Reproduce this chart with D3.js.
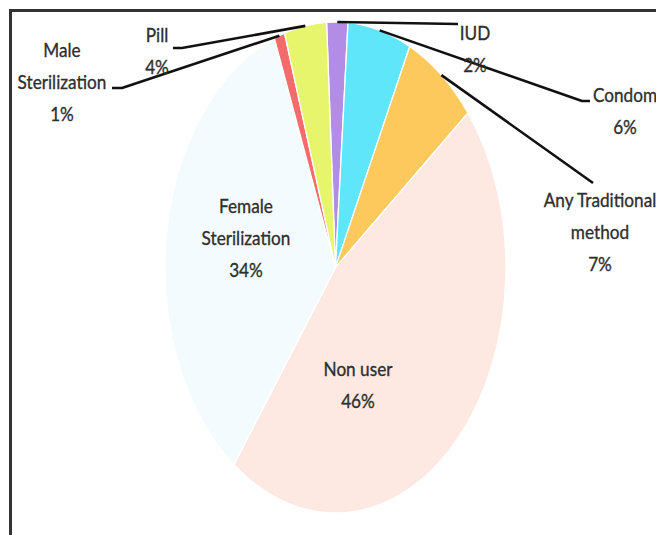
<!DOCTYPE html>
<html>
<head>
<meta charset="utf-8">
<script src="https://cdn.jsdelivr.net/npm/d3@7"></script>
<style>
  html, body { margin: 0; padding: 0; background: #fff; overflow: hidden; }
  svg { display: block; }
</style>
</head>
<body>
<svg id="chart" width="656" height="535"></svg>
<script>
// Contraceptive method mix (share of women, %)
const methods = ["IUD", "Condom", "Any Traditional method", "Non user",
                 "Female Sterilization", "Male Sterilization", "Pill"];
const shares = [2, 6, 7, 46, 34, 1, 4];
const sliceColors = ["#b38ce6", "#5fe6fa", "#fdc85c", "#fde9e2",
                     "#f3fbfe", "#f46b6b", "#e7f56c"];
// label text, split into lines (the percentage goes on the last line)
const labelLines = [["IUD"], ["Condom"], ["Any Traditional", "method"], ["Non user"],
                    ["Female", "Sterilization"], ["Male", "Sterilization"], ["Pill"]];

// ---- layout ----
const W = 656, H = 535;
const cx = 335.5, cy = 267.5, rx = 170.5, ry = 245.5;
const deg = Math.PI / 180;
const start = -3 * deg;

// label centre x, first baseline y, and leader elbow points on the label side
const labelLayout = [
  { x: 475, y: 40,  leader: [[458, 24]] },
  { x: 625, y: 102, leader: [[590, 101], [582, 101]] },
  { x: 600, y: 207, leader: [[593, 183]] },
  { x: 358, y: 376, leader: null },
  { x: 246, y: 213, leader: null },
  { x: 62,  y: 57,  leader: [[112, 88], [122, 88]] },
  { x: 157, y: 42,  leader: [[173, 48], [182, 48]] }
];
const lineGap = 32;
const textSquash = 0.86;

const svg = d3.select("#chart");

// frame
svg.append("path")
  .attr("d", `M10.5,${H} V10.5 H${W}`)
  .attr("fill", "none")
  .attr("stroke", "#333")
  .attr("stroke-width", 3);

const pie = d3.pie().sort(null).value(d => d)
  .startAngle(start).endAngle(start + 2 * Math.PI);
const arcs = pie(shares);

const arc = d3.arc().innerRadius(0).outerRadius(rx);

// slices, drawn on a circle and stretched into an ellipse
const pieG = svg.append("g")
  .attr("transform", `translate(${cx},${cy}) scale(1,${ry / rx})`);

pieG.selectAll("path.slice")
  .data(arcs)
  .join("path")
  .attr("class", "slice")
  .attr("d", arc)
  .attr("fill", (d, i) => sliceColors[i])
  .attr("stroke", "#fff")
  .attr("stroke-width", 1.3)
  .attr("vector-effect", "non-scaling-stroke");

// point on the ellipse rim at a given pie angle and radius fraction
const rimPoint = (a, f = 1) => [cx + f * rx * Math.sin(a), cy - f * ry * Math.cos(a)];

// leader lines
const line = d3.line();
arcs.forEach((d, i) => {
  const lay = labelLayout[i];
  if (!lay.leader) return;
  const mid = (d.startAngle + d.endAngle) / 2;
  const pts = lay.leader.concat([rimPoint(mid)]);
  svg.append("path")
    .attr("d", line(pts))
    .attr("fill", "none")
    .attr("stroke", "#111")
    .attr("stroke-width", 2.6)
    .attr("stroke-linejoin", "round");
});

// labels
arcs.forEach((d, i) => {
  const lay = labelLayout[i];
  const lines = labelLines[i].concat([shares[i] + "%"]);
  const g = svg.append("g")
    .attr("transform", `translate(${lay.x},0) scale(${textSquash},1)`);
  const t = g.append("text")
    .attr("text-anchor", "middle")
    .attr("font-family", "Lato, 'Open Sans', sans-serif")
    .attr("font-size", 20)
    .attr("fill", "#2e2e2e")
    .attr("stroke", "#2e2e2e")
    .attr("stroke-width", 0.35);
  lines.forEach((s, k) => {
    t.append("tspan").attr("x", 0).attr("y", lay.y + k * lineGap).text(s);
  });
});
</script>
</body>
</html>
